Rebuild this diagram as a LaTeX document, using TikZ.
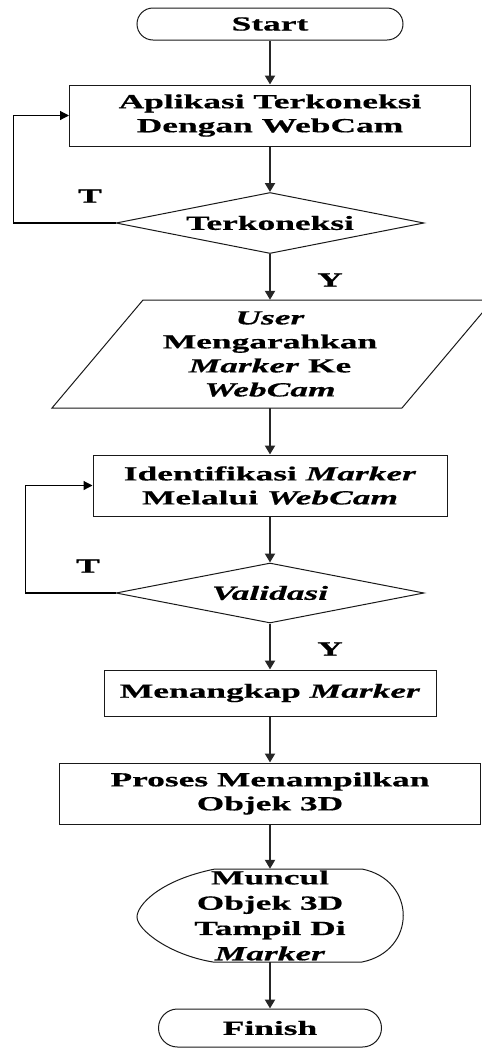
\documentclass[tikz,border=0pt]{standalone}
\usepackage{fontspec}
\setmainfont{Liberation Serif}[FakeStretch=1.77,BoldFeatures={FakeBold=0.6},BoldItalicFeatures={FakeBold=0.6}]
\usetikzlibrary{shapes.geometric,arrows.meta}
\begin{document}
\begin{tikzpicture}[x=1pt,y=-1pt,
  txt/.style={font=\bfseries\fontsize{20}{24}\selectfont, align=center, inner sep=0pt},
  proc/.style={txt, draw=black!90, line width=1pt, rectangle},
  term/.style={txt, draw=black!90, line width=1pt, rectangle},
  dec/.style={txt, draw=black!90, line width=1pt, diamond, aspect=5},
  outline/.style={draw=black!90, line width=1pt},
  arr/.style={draw=black!85, line width=2pt, -{Triangle[width=10pt,length=9pt]}},
  back/.style={draw=black, line width=1.2pt, -{Triangle[width=9pt,length=9pt]}},
  lbl/.style={font=\bfseries\fontsize{20}{24}\selectfont, inner sep=0pt}
]
\useasboundingbox (0,0) rectangle (482,1050);
\clip (0,0) rectangle (482,1050);

\node[term, minimum width=266pt, minimum height=32pt, rounded corners=16pt] (start) at (270,24) {Start};
\node[proc, minimum width=401pt, minimum height=61pt] (b1) at (270,115.5) {Aplikasi Terkoneksi\\Dengan WebCam};
\node[dec, minimum width=308pt, minimum height=61pt] (d1) at (270,223) {Terkoneksi};
\node[txt, minimum width=339pt, minimum height=108pt] (par) at (270,354) {\textit{User}\\Mengarahkan\\\textit{Marker} Ke\\\textit{WebCam}};
\draw[outline] (52,408) -- (402,408) -- (493,300) -- (143,300) -- cycle;
\node[proc, minimum width=354pt, minimum height=61pt] (b2) at (270,485.5) {Identifikasi \textit{Marker}\\Melalui \textit{WebCam}};
\node[dec, minimum width=308pt, minimum height=60pt] (d2) at (270,593) {\textit{Validasi}};
\node[proc, minimum width=332pt, minimum height=46pt] (b3) at (270,693) {Menangkap \textit{Marker}};
\node[proc, minimum width=421pt, minimum height=61pt] (b4) at (270,793.5) {Proses Menampilkan\\Objek 3D};
\node[txt, minimum width=266pt, minimum height=93pt, font=\bfseries\fontsize{20}{25.3}\selectfont] (disp) at (270,915.5) {Muncul\\Objek 3D\\Tampil Di\\\textit{Marker}};
\draw[outline] (215,869) -- (362,869) .. controls (417,880) and (417,951) .. (362,962) -- (213,962) .. controls (170,955) and (137,930) .. (137,917) .. controls (137,905) and (160,880) .. (215,869) -- cycle;
\node[term, minimum width=223pt, minimum height=38pt, rounded corners=19pt] (fin) at (270,1028) {Finish};

\draw[arr] (start) -- (b1);
\draw[arr] (b1) -- (d1);
\draw[arr] (d1) -- (par);
\draw[arr] (par) -- (b2);
\draw[arr] (b2) -- (d2);
\draw[arr] (d2) -- (b3);
\draw[arr] (b3) -- (b4);
\draw[arr] (b4) -- (disp);
\draw[arr] (disp) -- (fin);

\draw[back] (d1.west) -- ++(-102,0) |- (b1.west);
\draw[back] (d2.west) -- ++(-90,0) |- (b2.west);

\node[lbl] (t1) at (90,196) {T};
\node[lbl] (y1) at (330,280) {Y};
\node[lbl] (t2) at (88,566) {T};
\node[lbl] (y2) at (330,649) {Y};
\end{tikzpicture}
\end{document}
